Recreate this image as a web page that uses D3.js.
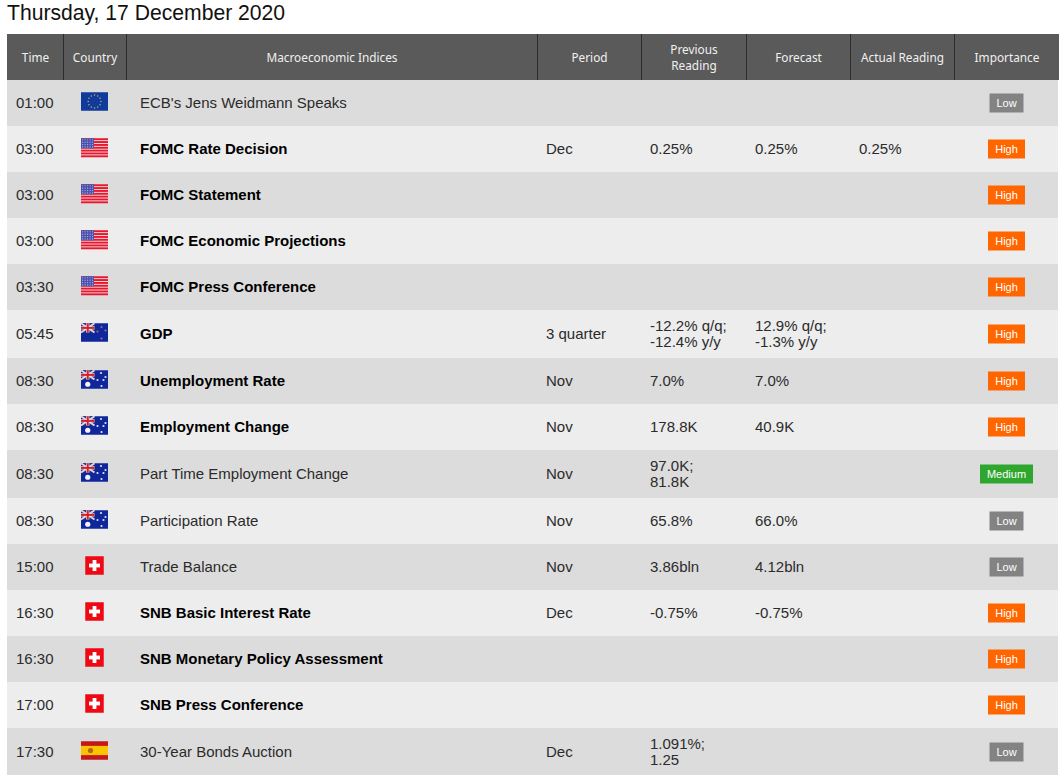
<!DOCTYPE html>
<html>
<head>
<meta charset="utf-8">
<script src="https://cdn.jsdelivr.net/npm/d3@7"></script>
<style>
  html, body { margin: 0; padding: 0; background: #fff; overflow: hidden; }
  svg { display: block; }
  text { font-family: "Liberation Sans", Arial, sans-serif; }
  text.head { font-family: "Noto Sans", sans-serif; font-size: 11.8px; fill: #f0f0f0; text-anchor: middle; }
</style>
</head>
<body>
<div id="chart"></div>
<script>
// Data
const title = "Thursday, 17 December 2020";
const headers = [["Time"], ["Country"], ["Macroeconomic Indices"], ["Period"], ["Previous", "Reading"], ["Forecast"], ["Actual Reading"], ["Importance"]];
const times = ["01:00", "03:00", "03:00", "03:00", "03:30", "05:45", "08:30", "08:30", "08:30", "08:30", "15:00", "16:30", "16:30", "17:00", "17:30"];
const countries = ["EU", "US", "US", "US", "US", "NZ", "AU", "AU", "AU", "AU", "CH", "CH", "CH", "CH", "ES"];
const indices = ["ECB's Jens Weidmann Speaks", "FOMC Rate Decision", "FOMC Statement", "FOMC Economic Projections", "FOMC Press Conference", "GDP", "Unemployment Rate", "Employment Change", "Part Time Employment Change", "Participation Rate", "Trade Balance", "SNB Basic Interest Rate", "SNB Monetary Policy Assessment", "SNB Press Conference", "30-Year Bonds Auction"];
const periods = ["", "Dec", "", "", "", "3 quarter", "Nov", "Nov", "Nov", "Nov", "Nov", "Dec", "", "", "Dec"];
const previous = [[], ["0.25%"], [], [], [], ["-12.2% q/q;", "-12.4% y/y"], ["7.0%"], ["178.8K"], ["97.0K;", "81.8K"], ["65.8%"], ["3.86bln"], ["-0.75%"], [], [], ["1.091%;", "1.25"]];
const forecast = [[], ["0.25%"], [], [], [], ["12.9% q/q;", "-1.3% y/y"], ["7.0%"], ["40.9K"], [], ["66.0%"], ["4.12bln"], ["-0.75%"], [], [], []];
const actual = ["", "0.25%", "", "", "", "", "", "", "", "", "", "", "", "", ""];
const importance = ["Low", "High", "High", "High", "High", "High", "High", "High", "Medium", "Low", "Low", "High", "High", "High", "Low"];

// Layout
const width = 1064, height = 775;
const colEdges = [7, 63, 126, 537, 641, 746, 850, 954, 1059];
const headTop = 34, headBottom = 80;
const badgeColor = d3.scaleOrdinal(["Low", "Medium", "High"], ["#838383", "#2fa72f", "#ff6600"]);
const badgeWidth = d3.scaleOrdinal(["Low", "Medium", "High"], [34, 53, 37]);

// Rows with a two line reading are 2px taller
const rows = times.map((t, i) => ({
  i,
  h: Math.max(previous[i].length, forecast[i].length) > 1 ? 48 : 46
}));
let yPos = headBottom;
rows.forEach(r => { r.y = yPos; yPos += r.h; r.mid = r.y + r.h / 2; });

const svg = d3.select("#chart").append("svg")
  .attr("width", width)
  .attr("height", height);

svg.append("text")
  .attr("x", 7)
  .attr("y", 20)
  .attr("font-size", "21.15px")
  .attr("fill", "#111")
  .text(title);

// Header
svg.append("rect")
  .attr("x", colEdges[0]).attr("y", headTop)
  .attr("width", colEdges[8] - colEdges[0]).attr("height", headBottom - headTop)
  .attr("fill", "#5a5a5a");

svg.selectAll(".sep")
  .data(colEdges.slice(1, 8))
  .enter().append("line")
  .attr("class", "sep")
  .attr("x1", d => d + 0.5).attr("x2", d => d + 0.5)
  .attr("y1", headTop).attr("y2", headBottom)
  .attr("stroke", "#2c2c2c");

headers.forEach((lines, c) => {
  const cx = (colEdges[c] + colEdges[c + 1]) / 2 + 0.5;
  lines.forEach((l, k) => {
    svg.append("text")
      .attr("class", "head")
      .attr("x", cx)
      .attr("y", headTop + 27.5 + (k - (lines.length - 1) / 2) * 16)
      .text(l);
  });
});

// Rows
const row = svg.selectAll(".row")
  .data(rows)
  .enter().append("g")
  .attr("class", "row");

row.append("rect")
  .attr("x", colEdges[0])
  .attr("y", d => d.y)
  .attr("width", colEdges[8] - colEdges[0] - 1)
  .attr("height", d => d.h)
  .attr("fill", d => d.i % 2 ? "#ededed" : "#dcdcdc");

function cellText(sel, x, lines) {
  const mid = sel.datum().mid;
  lines.forEach((l, k) => {
    sel.append("text")
      .attr("x", x)
      .attr("y", mid + 5 + (k - (lines.length - 1) / 2) * 16)
      .attr("font-size", "15px")
      .attr("fill", "#2b2b2b")
      .text(l);
  });
}

// Flags, drawn around their own centre
function base(g, w, h, color) {
  g.append("rect").attr("x", -w / 2).attr("y", -h / 2).attr("width", w).attr("height", h).attr("fill", color);
}

function unionJack(g) {
  const x0 = -13.5, x1 = 0, y0 = -9.25, y1 = 0;
  g.append("rect").attr("x", x0).attr("y", y0).attr("width", 13.5).attr("height", 9.25).attr("fill", "#27337f");
  [[x0, y0, x1, y1], [x0, y1, x1, y0]].forEach(p => {
    g.append("line").attr("x1", p[0]).attr("y1", p[1]).attr("x2", p[2]).attr("y2", p[3])
      .attr("stroke", "#e4d4dc").attr("stroke-width", 2);
  });
  g.append("rect").attr("x", x0).attr("y", -6.2).attr("width", 13.5).attr("height", 3.2).attr("fill", "#eee");
  g.append("rect").attr("x", -8.35).attr("y", y0).attr("width", 3.2).attr("height", 9.25).attr("fill", "#eee");
  g.append("rect").attr("x", x0).attr("y", -5.6).attr("width", 13.5).attr("height", 2).attr("fill", "#d4202c");
  g.append("rect").attr("x", -7.75).attr("y", y0).attr("width", 2).attr("height", 9.25).attr("fill", "#d4202c");
}

function drawFlag(g, code) {
  const w = 27, h = 18.5;
  if (code === "EU") {
    base(g, w, h, "#103a9c");
    d3.range(12).forEach(k => {
      const a = k * Math.PI / 6;
      g.append("circle").attr("cx", 6.4 * Math.cos(a)).attr("cy", 6.4 * Math.sin(a)).attr("r", 0.75).attr("fill", "#b9b95a");
    });
  } else if (code === "US") {
    base(g, w, h, "#f7e6e8");
    d3.range(7).forEach(k => {
      g.append("rect").attr("x", -w / 2).attr("y", -h / 2 + k * h / 6.5)
        .attr("width", w).attr("height", h / 9.5).attr("fill", "#e4182e");
    });
    g.append("rect").attr("x", -w / 2).attr("y", -h / 2).attr("width", 13).attr("height", 10).attr("fill", "#4a50ac");
    d3.range(5).forEach(a => d3.range(4).forEach(b => {
      g.append("circle").attr("cx", -w / 2 + 1.6 + a * 2.5).attr("cy", -h / 2 + 1.5 + b * 2.4)
        .attr("r", 0.6).attr("fill", "#b4b6e2");
    }));
  } else if (code === "AU" || code === "NZ") {
    base(g, w, h, "#10279a");
    unionJack(g);
    const stars = code === "AU"
      ? [[6.5, -6.5], [11, -2.5], [3, 0.5], [7, 6.5], [9, 0.5]]
      : [[7, -5.5], [11, -2], [3, -1], [7, 6]];
    stars.forEach(s => {
      g.append("circle").attr("cx", s[0]).attr("cy", s[1]).attr("r", 1.1)
        .attr("fill", code === "AU" ? "#dfe3f5" : "#9a6a9a");
    });
    if (code === "AU") {
      g.append("circle").attr("cx", -6.75).attr("cy", 4.75).attr("r", 2.6).attr("fill", "#f2f2fa");
    }
  } else if (code === "CH") {
    base(g, 18.5, 18.5, "#ee0a14");
    g.append("rect").attr("x", -5.5).attr("y", -1.9).attr("width", 11).attr("height", 3.8).attr("fill", "#fff");
    g.append("rect").attr("x", -1.9).attr("y", -5.5).attr("width", 3.8).attr("height", 11).attr("fill", "#fff");
  } else if (code === "ES") {
    base(g, w, h, "#c4161c");
    g.append("rect").attr("x", -w / 2).attr("y", -h / 4).attr("width", w).attr("height", h / 2).attr("fill", "#fcc400");
    g.append("circle").attr("cx", -4).attr("cy", 0).attr("r", 2.6).attr("fill", "#b5651d");
  }
}

row.each(function(d) {
  const g = d3.select(this);
  const i = d.i;
  cellText(g, 16, [times[i]]);
  cellText(g, 546, periods[i] ? [periods[i]] : []);
  cellText(g, 650, previous[i]);
  cellText(g, 755, forecast[i]);
  cellText(g, 859, actual[i] ? [actual[i]] : []);

  // High importance events are set in bold
  g.append("text")
    .attr("x", 140)
    .attr("y", d.mid + 5)
    .attr("font-size", "15px")
    .attr("font-weight", importance[i] === "High" ? "bold" : "normal")
    .attr("fill", importance[i] === "High" ? "#000" : "#2b2b2b")
    .text(indices[i]);

  // Importance badge
  const bw = badgeWidth(importance[i]);
  g.append("rect")
    .attr("x", 1006.5 - bw / 2)
    .attr("y", d.mid - 9.5)
    .attr("width", bw)
    .attr("height", 19)
    .attr("fill", badgeColor(importance[i]));
  g.append("text")
    .attr("x", 1006.5)
    .attr("y", d.mid + 4)
    .attr("text-anchor", "middle")
    .attr("font-size", "11px")
    .attr("fill", "#fff")
    .text(importance[i]);

  drawFlag(g.append("g").attr("transform", `translate(94.5,${d.mid - 1.5})`), countries[i]);
});
</script>
</body>
</html>
